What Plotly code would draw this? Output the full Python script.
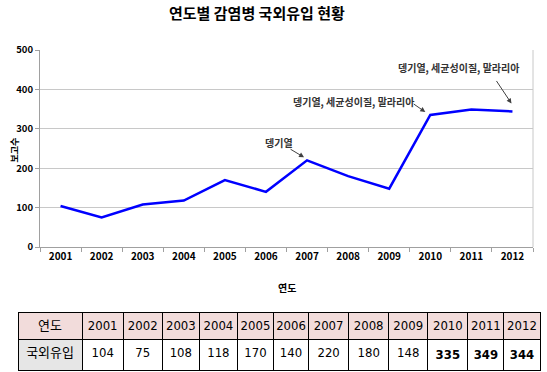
import plotly.graph_objects as go

years = ["2001", "2002", "2003", "2004", "2005", "2006", "2007", "2008", "2009", "2010", "2011", "2012"]
cases = [104, 75, 108, 118, 170, 140, 220, 180, 148, 335, 349, 344]
bold_years = ["2010", "2011", "2012"]
y_ticks = [0, 100, 200, 300, 400, 500]

title_text = "연도별 감염병 국외유입 현황"
x_title = "연도"
y_title = "보고수"
row_header = "연도"
row_label = "국외유입"
note_short = "뎅기열"
note_long = "뎅기열, 세균성이질, 말라리아"

W, H = 547, 372
kfont = "Noto Sans CJK KR"
tfont = "DejaVu Sans Condensed, " + kfont

idx = list(range(len(years)))

fig = go.Figure()
fig.add_trace(go.Scatter(
    x=idx, y=cases, mode="lines",
    line=dict(color="#0000FF", width=2.5),
    hoverinfo="skip", showlegend=False,
))

# table
cell_vals = [[row_label]] + [
    ["<b>%d</b>" % v if yr in bold_years else str(v)] for yr, v in zip(years, cases)
]
fig.add_trace(go.Table(
    domain=dict(x=[18 / W, 540 / W], y=[0, 1 - 312 / H]),
    columnwidth=[64, 41, 39, 37, 38, 36, 35, 40, 40, 39, 40, 36, 36],
    header=dict(
        values=[row_header] + years,
        fill_color="#F2DCDB",
        line=dict(color="black", width=1),
        align="center",
        height=27,
        font=dict(family=tfont, size=13, color="black"),
    ),
    cells=dict(
        values=cell_vals,
        fill_color=["#E6E6E6"] + ["white"] * len(years),
        line=dict(color="black", width=1),
        align="center",
        height=27,
        font=dict(family=tfont, size=13, color="black"),
    ),
))

anns = []
anns.append(dict(text="<b>" + title_text + "</b>", xref="paper", yref="paper",
                 x=257 / W, y=1 - 13 / H, yanchor="middle", showarrow=False,
                 font=dict(family=kfont, size=15, color="black")))
anns.append(dict(text="<b>" + y_title + "</b>", xref="paper", yref="paper",
                 x=5 / W, y=1 - 150 / H, showarrow=False, textangle=-90,
                 font=dict(family=kfont, size=9, color="black")))
anns.append(dict(text="<b>" + x_title + "</b>", xref="paper", yref="paper",
                 x=287 / W, y=1 - 287 / H, yanchor="middle", showarrow=False,
                 font=dict(family=kfont, size=10, color="black")))

nfont = dict(family=kfont, size=10, color="#333333")
i07, i10, i12 = years.index("2007"), years.index("2010"), years.index("2012")
anns.append(dict(text="<b>" + note_short + "</b>", x=i07, y=cases[i07], xref="x", yref="y",
                 showarrow=False, xshift=-28, yshift=18, font=nfont))
anns.append(dict(text="<b>" + note_long + "</b>", x=i10, y=cases[i10], xref="x", yref="y",
                 showarrow=False, xshift=-77, yshift=14, font=nfont))
anns.append(dict(text="<b>" + note_long + "</b>", x=i12, y=cases[i12], xref="x", yref="y",
                 showarrow=False, xshift=-54, yshift=44, font=nfont))
for i, hx, hy, tx, ty in [(i07, -3, 3, -15, -9),
                          (i10, -5, 3, -13, -9),
                          (i12, -1, 8, -16, -24)]:
    anns.append(dict(text="", x=i, y=cases[i], xref="x", yref="y", showarrow=True,
                     xshift=hx, yshift=hy, ax=tx, ay=ty,
                     arrowhead=2, arrowsize=1, arrowwidth=1, arrowcolor="#404040"))

fig.update_layout(
    template="none",
    width=W, height=H,
    margin=dict(l=0, r=0, t=0, b=0, autoexpand=False),
    paper_bgcolor="white", plot_bgcolor="white",
    annotations=anns,
    xaxis=dict(
        domain=[40 / W, 533 / W], anchor="y", automargin=False,
        range=[-0.5, len(years) - 0.5],
        tickvals=idx, ticktext=years, ticks="", tickangle=0,
        minor=dict(tick0=-0.5, dtick=1, ticks="outside", ticklen=4, tickcolor="#A0A0A0", showgrid=False),
        showline=True, linecolor="#A0A0A0", linewidth=1,
        showgrid=False, zeroline=False,
        tickfont=dict(family=kfont, size=10, color="black", weight="bold"),
        fixedrange=True,
    ),
    yaxis=dict(
        domain=[1 - 247 / H, 1 - 50 / H], anchor="x", automargin=False,
        range=[0, 500], tickvals=y_ticks,
        ticks="outside", ticklen=4, tickcolor="#A0A0A0",
        showline=True, linecolor="#A0A0A0", linewidth=1,
        showgrid=True, gridcolor="#C8C8C8", gridwidth=1,
        zeroline=False,
        tickfont=dict(family=kfont, size=9.5, color="black", weight="bold"),
        fixedrange=True,
    ),
    shapes=[dict(type="line", xref="paper", yref="paper",
                 x0=533 / W, x1=533 / W, y0=1 - 247 / H, y1=1 - 50 / H,
                 line=dict(color="#C8C8C8", width=1))],
)

fig.write_html("out.html", config={"displayModeBar": False},
               post_script="document.body.style.margin='0';document.body.style.overflow='hidden';")
